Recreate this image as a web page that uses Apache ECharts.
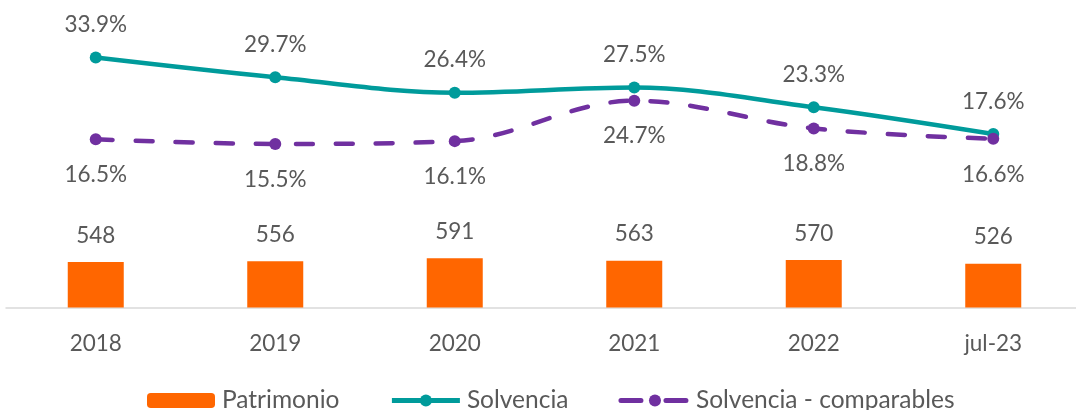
<!DOCTYPE html>
<html>
<head>
<meta charset="utf-8">
<script src="https://cdn.jsdelivr.net/npm/echarts@6/dist/echarts.min.js"></script>
<style>
  html, body { margin: 0; padding: 0; background: #fff; overflow: hidden; }
  #chart { width: 1083px; height: 410px; }
</style>
</head>
<body>
<div id="chart"></div>
<script>
// datos
var years = ['2018', '2019', '2020', '2021', '2022', 'jul-23']
var patrimonio = [548, 556, 591, 563, 570, 526]
var solvencia = [33.9, 29.7, 26.4, 27.5, 23.3, 17.6]
var solvenciaComp = [16.5, 15.5, 16.1, 24.7, 18.8, 16.6]

var txt = '#595959'
var font = 'Lato, "Open Sans", sans-serif'
var fs = 22.5

var chart = echarts.init(document.getElementById('chart'))

var option = {
  animation: false,
  textStyle: { fontFamily: font },
  grid: { left: 6, right: 0, top: 10, bottom: 102.5 },
  legend: {
    top: 383,
    left: 142,
    itemWidth: 68,
    itemHeight: 15,
    itemGap: 50,
    textStyle: { color: txt, fontSize: 24.5, fontFamily: font, padding: [0, 0, 0, 2] },
    data: [
      { name: 'Patrimonio' },
      { name: 'Solvencia', lineStyle: { width: 5 } },
      { name: 'Solvencia - comparables', lineStyle: { width: 5, type: [20, 25], cap: 'round' } }
    ]
  },
  xAxis: {
    type: 'category',
    data: years,
    axisTick: { show: false },
    axisLine: { lineStyle: { color: '#d9d9d9', width: 1.5 } },
    axisLabel: { color: txt, fontSize: fs, margin: 25, fontFamily: font }
  },
  yAxis: [
    { type: 'value', min: 0, max: 3575, show: false, splitLine: { show: false } },
    { type: 'value', min: -19.3, max: 44, show: false, splitLine: { show: false } }
  ],
  series: [
    {
      name: 'Patrimonio',
      type: 'bar',
      data: patrimonio,
      barWidth: 56,
      itemStyle: { color: '#ff6600' },
      label: { show: true, position: 'top', distance: 15, color: txt, fontSize: fs, fontFamily: font }
    },
    {
      name: 'Solvencia',
      type: 'line',
      yAxisIndex: 1,
      data: solvencia,
      smooth: 0.35,
      symbol: 'circle',
      symbolSize: 12,
      itemStyle: { color: '#009b9b' },
      lineStyle: { color: '#009b9b', width: 4.5 },
      label: {
        show: true, position: 'top', distance: 15, color: txt, fontSize: fs, fontFamily: font,
        formatter: function (p) { return p.value.toFixed(1) + '%' }
      }
    },
    {
      name: 'Solvencia - comparables',
      type: 'line',
      yAxisIndex: 1,
      data: solvenciaComp,
      smooth: 0.35,
      symbol: 'circle',
      symbolSize: 12,
      itemStyle: { color: '#7030a0' },
      lineStyle: { color: '#7030a0', width: 4.5, type: [17, 23], cap: 'round' },
      label: {
        show: true, position: 'bottom', distance: 18, color: txt, fontSize: fs, fontFamily: font,
        formatter: function (p) { return p.value.toFixed(1) + '%' }
      }
    }
  ]
}

chart.setOption(option)
</script>
</body>
</html>
